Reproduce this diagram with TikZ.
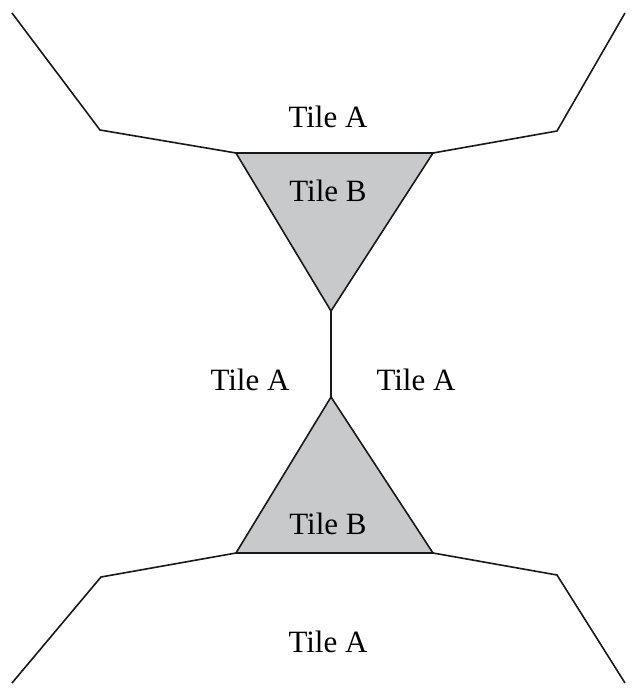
\documentclass[tikz,border=0pt]{standalone}
\usepackage{fontspec}
\setmainfont{Liberation Serif}
\definecolor{tilegray}{RGB}{200,201,203}
\begin{document}
\begin{tikzpicture}[x=1pt,y=-1pt,
  edge/.style={line width=1.6pt,line join=miter,color=black!90},
  lab/.style={font=\fontsize{31}{37}\selectfont,inner sep=0pt}]
\useasboundingbox (0,0) rectangle (635,693);
% corners
\coordinate (tl0) at (12,13);
\coordinate (tl1) at (100,130);
\coordinate (tA) at (236,153);
\coordinate (tB) at (433,153);
\coordinate (tC) at (331,311);
\coordinate (tr1) at (557,131);
\coordinate (tr0) at (625,13);
\coordinate (bC) at (331,397);
\coordinate (bA) at (236,553);
\coordinate (bB) at (433,553);
\coordinate (bl1) at (101,577);
\coordinate (bl0) at (12,683);
\coordinate (br1) at (557,575);
\coordinate (br0) at (625,683);
% triangles
\filldraw[edge,fill=tilegray] (tA) -- (tB) -- (tC) -- cycle;
\filldraw[edge,fill=tilegray] (bC) -- (bB) -- (bA) -- cycle;
% boundary lines
\draw[edge] (tl0) -- (tl1) -- (tA);
\draw[edge] (tB) -- (tr1) -- (tr0);
\draw[edge] (tC) -- (bC);
\draw[edge] (bA) -- (bl1) -- (bl0);
\draw[edge] (bB) -- (br1) -- (br0);
% labels
\node[lab] (a1) at (328,117) {Tile A};
\node[lab] (b1) at (328,191) {Tile B};
\node[lab] (a2) at (250,380) {Tile A};
\node[lab] (a3) at (416,380) {Tile A};
\node[lab] (b2) at (328,524) {Tile B};
\node[lab] (a4) at (328,642) {Tile A};
\end{tikzpicture}
\end{document}
